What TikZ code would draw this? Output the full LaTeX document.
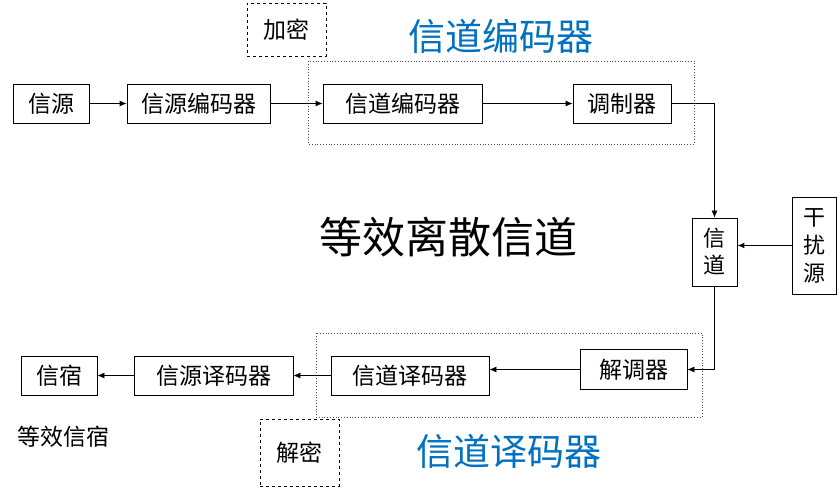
\documentclass[tikz,border=0pt]{standalone}
\usepackage{fontspec}
\setmainfont{Noto Sans CJK SC}
\usetikzlibrary{arrows.meta}
\definecolor{titleblue}{HTML}{0070C0}

\begin{document}
\begin{tikzpicture}[x=1pt,y=-1pt,>={Latex[length=7pt,width=6pt]},line width=0.8pt,
  every node/.style={font=\fontsize{23}{28}\selectfont},
  blk/.style={draw,minimum height=39pt,inner sep=0pt},
  keybox/.style={draw,dashed,inner sep=0pt},
  grp/.style={draw=black!70,dotted},
  ttl/.style={text=titleblue,font=\fontsize{37}{42}\selectfont}]
  \useasboundingbox (0,0) rectangle (840,494);
  % dotted groups
  \draw[grp] (308,61) rectangle (694,144);
  \draw[grp] (316,333) rectangle (702,417);
  % sending side
  \node[blk,minimum width=76pt] (src) at (51,103.5) {信源};
  \node[blk,minimum width=143pt] (srcenc) at (198.5,103.5) {信源编码器};
  \node[blk,minimum width=159pt] (chenc) at (402.5,103.5) {信道编码器};
  \node[blk,minimum width=98pt] (mod) at (622,103.5) {调制器};
  \node[keybox,minimum width=79pt,minimum height=53pt] (encr) at (286.5,29.5) {加密};
  \node[ttl] (enctitle) at (501,36) {信道编码器};
  % channel and noise
  \node[draw,inner sep=0pt,minimum width=45pt,minimum height=68pt,align=center,font=\fontsize{22}{27}\selectfont] (chan) at (714.5,252) {信\\道};
  \node[draw,inner sep=0pt,minimum width=44pt,minimum height=97pt,align=center,font=\fontsize{22}{28}\selectfont] (noise) at (814,245.5) {干\\扰\\源};
  \node[font=\fontsize{43}{48}\selectfont] (eqch) at (448,237) {等效离散信道};
  % receiving side
  \node[blk,minimum width=107pt,minimum height=40pt] (demod) at (633.5,369.5) {解调器};
  \node[blk,minimum width=158pt] (chdec) at (410,375.5) {信道译码器};
  \node[blk,minimum width=159pt] (srcdec) at (213.5,375.5) {信源译码器};
  \node[blk,minimum width=76pt] (sink) at (59,375.5) {信宿};
  \node[keybox,minimum width=79pt,minimum height=67pt] (decr) at (299.5,452.5) {解密};
  \node[ttl] (dectitle) at (509,451) {信道译码器};
  \node (eqsink) at (63,437) {等效信宿};
  % connectors
  \draw[->] (src) -- (srcenc);
  \draw[->] (srcenc) -- (chenc);
  \draw[->] (chenc) -- (mod);
  \draw[->] (mod.east) -| (chan.north);
  \draw[->,line width=1.8pt] (noise.west) -- (chan.east |- noise.west);
  \draw[->] (chan.south) |- (demod.east);
  \draw[->] (demod.west) -- (chdec.east |- demod.west);
  \draw[->] (chdec) -- (srcdec);
  \draw[->] (srcdec) -- (sink);
\end{tikzpicture}
\end{document}
